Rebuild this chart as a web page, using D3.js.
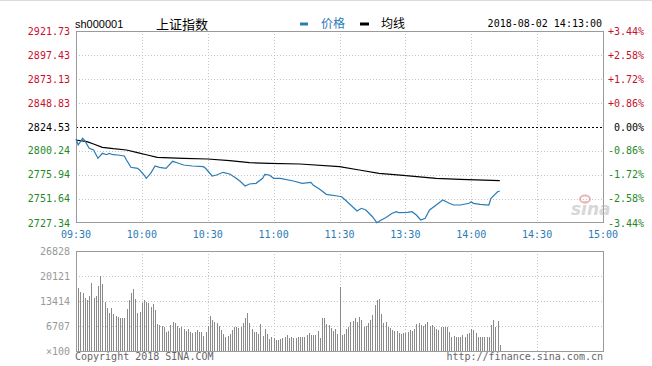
<!DOCTYPE html>
<html><head><meta charset="utf-8">
<script src="https://cdn.jsdelivr.net/npm/d3@7/dist/d3.min.js"></script>
<style>
html,body{margin:0;padding:0;background:#fff;}
svg{display:block;}
</style></head>
<body><svg id="c" width="652" height="366"></svg>
<script>
// ---------- data ----------
const symbol = "sh000001";
const title = "上证指数";
const stamp = "2018-08-02 14:13:00";
const legendNames = ["价格", "均线"];
const timeLabels = ["09:30","10:00","10:30","11:00","11:30","13:30","14:00","14:30","15:00"];
const priceTicks = [2921.73, 2897.43, 2873.13, 2848.83, 2824.53, 2800.24, 2775.94, 2751.64, 2727.34];
const pctTicks = ["+3.44%","+2.58%","+1.72%","+0.86%","0.00%","-0.86%","-1.72%","-2.58%","-3.44%"];
const prevClose = 2824.53;
const volTicks = [26828, 20121, 13414, 6707, 0];
const volTickLabels = ["26828","20121","13414","6707","×100"];

// minute index from 09:30 (lunch break removed)
const priceMinutes = [0,1,3,4,6,8,10,12,14,15,17,19,22,23,25,28,29,31,32,34,36,38,41,44,46,49,53,58,59,62,64,67,70,73,75,77,79,82,85,86,88,90,93,99,103,107,108,111,114,119,121,123,128,130,132,135,137,139,141,144,146,147,151,153,155,157,159,161,163,167,170,172,175,179,180,181,184,188,189,192,193];
const priceValues = [2812.38,2806.30,2813.09,2810.66,2802.96,2801.24,2792.84,2797.90,2796.48,2797.90,2796.48,2796.18,2795.17,2791.12,2783.73,2782.71,2780.99,2775.93,2772.59,2777.65,2785.04,2783.73,2782.71,2789.80,2788.38,2786.05,2785.04,2784.33,2782.71,2774.92,2775.93,2778.66,2776.94,2772.59,2769.15,2764.79,2766.82,2767.53,2772.59,2776.64,2775.93,2772.59,2772.59,2769.85,2767.53,2768.54,2765.80,2761.45,2756.39,2754.67,2753.96,2749.91,2739.48,2742.21,2740.49,2733.71,2727.63,2730.37,2732.70,2737.15,2738.77,2737.76,2738.16,2738.77,2735.43,2730.37,2732.09,2740.49,2743.83,2750.62,2747.28,2745.55,2745.55,2747.28,2748.90,2747.28,2746.26,2745.55,2752.34,2759.02,2759.73];

const avgMinutes = [0,5,8,12,17,23,28,32,37,49,60,70,79,88,102,120,129,138,149,164,175,193];
const avgValues = [2811.37,2809.65,2807.32,2803.98,2802.56,2801.24,2798.51,2796.48,2793.85,2792.84,2792.13,2790.41,2788.38,2787.78,2787.07,2784.33,2780.99,2777.65,2775.63,2772.59,2771.58,2770.16];

// volume per minute (x100 shares), minute 0..193
const volumes = [17500,
16810,15920,15470,14130,13680,14760,18150,14130,14760,17440,20120,17890,13240,11450,10280,11450,9930,9390,9210,8760,8760,8760,11180,13680,15650,16550,13860,10280,10550,12970,13680,13240,12790,11890,12610,11000,7240,6980,6710,6350,5190,5460,6980,7870,7600,6710,6080,6350,5810,5460,5810,5190,4920,5190,5630,5190,5190,4020,5190,6710,9390,8320,7870,7600,6710,
5630,4560,3850,4020,4560,5630,6530,6350,6080,6350,7600,8760,10110,7600,5810,5190,5190,4560,7240,4020,5810,4560,3130,3850,3400,2950,2950,3130,3400,3850,4290,3400,3670,3400,3400,3670,3670,3850,3850,4290,4920,4290,4290,4290,5460,3400,8760,8760,7240,6980,6080,5460,5810,4560,17260,4290,4560,5810,6350,7870,8140,8760,7870,9030,8320,6350,6710,7600,8320,9660,12340,13680,13860,9930,7420,7870,6530,6080,5630,5460,5460,4920,4560,4740,4740,5190,5630,5460,5810,7240,7600,6980,6710,7240,7870,6710,6980,6350,5810,5630,
6530,6350,6350,6530,5190,3670,4020,3850,3850,3850,4290,3850,4560,4740,5810,5630,4920,3850,3670,3850,3850,3850,3850,6980,8320,6530,8140,1610];

// ---------- drawing ----------
const svg = d3.select("#c");
const L = 76, R = 603;
const PT = 31, PB = 223, VT = 251, VB = 351;
const mono = "'DejaVu Sans Mono', 'Liberation Mono', monospace";
const RED = "#c8102e", GREEN = "#1f8a1f", BLUE = "#2b7bb5", GRID = "#c4c4c4", FRAME = "#9a9a9a";

const x = d3.scaleLinear().domain([0, 240]).range([L, R]);
const y = d3.scaleLinear().domain([priceTicks[priceTicks.length-1], priceTicks[0]]).range([PB, PT]);
const yv = d3.scaleLinear().domain([0, volTicks[0]]).range([VB, VT]);
const tickMinutes = timeLabels.map((d,i) => i*30);

// top light border
svg.append("line").attr("x1",0).attr("x2",652).attr("y1",0.5).attr("y2",0.5).attr("stroke","#dcdcdc");

// grids - price
const gP = svg.append("g");
gP.selectAll("line.h").data(priceTicks.slice(1, -1).filter(d => d !== prevClose)).join("line")
  .attr("x1", L).attr("x2", R).attr("y1", d => Math.round(y(d))+0.5).attr("y2", d => Math.round(y(d))+0.5)
  .attr("stroke", GRID).attr("stroke-dasharray", "1,2");
gP.selectAll("line.v").data(tickMinutes.slice(1,-1)).join("line")
  .attr("x1", d => Math.round(x(d))+0.5).attr("x2", d => Math.round(x(d))+0.5).attr("y1", PT).attr("y2", PB)
  .attr("stroke", GRID).attr("stroke-dasharray", "1,2");
// previous close dashed line
svg.append("line").attr("x1", L).attr("x2", R).attr("y1", Math.round(y(prevClose))+0.5).attr("y2", Math.round(y(prevClose))+0.5)
  .attr("stroke", "#000").attr("stroke-dasharray", "2,2");
// frame
svg.append("rect").attr("x", L+0.5).attr("y", PT+0.5).attr("width", R-L).attr("height", PB-PT-1)
  .attr("fill","none").attr("stroke", FRAME);

// grids - volume
const gV = svg.append("g");
gV.selectAll("line.h").data(volTicks.slice(1,-1)).join("line")
  .attr("x1", L).attr("x2", R).attr("y1", d => Math.round(yv(d))+0.5).attr("y2", d => Math.round(yv(d))+0.5)
  .attr("stroke", GRID).attr("stroke-dasharray", "1,2");
gV.selectAll("line.v").data(tickMinutes.slice(1,-1)).join("line")
  .attr("x1", d => Math.round(x(d))+0.5).attr("x2", d => Math.round(x(d))+0.5).attr("y1", VT).attr("y2", VB)
  .attr("stroke", GRID).attr("stroke-dasharray", "1,2");

// volume bars
svg.append("g").selectAll("line").data(volumes).join("line")
  .attr("x1", (d,i) => Math.round(x(i))+0.5).attr("x2", (d,i) => Math.round(x(i))+0.5)
  .attr("y1", d => Math.round(yv(d))).attr("y2", VB)
  .attr("stroke", "#8a8a8a").attr("stroke-width", 1);
svg.append("rect").attr("x", L+0.5).attr("y", VT+0.5).attr("width", R-L).attr("height", VB-VT)
  .attr("fill","none").attr("stroke", FRAME);

// sina watermark
const wm = svg.append("g").attr("opacity", 0.5);
wm.append("text").attr("x", 571).attr("y", 215).attr("font-family","'DejaVu Sans', sans-serif")
  .attr("font-size", 17).attr("font-style","italic").attr("font-weight","bold").attr("fill","#b0b0b0").text("sina");
wm.append("ellipse").attr("cx", 585).attr("cy", 199).attr("rx", 5).attr("ry", 3.5).attr("fill","none").attr("stroke","#e07070").attr("stroke-width",2);

// lines
const line = d3.line().x(d => x(d[0])).y(d => y(d[1]));
svg.append("path").datum(avgMinutes.map((m,i) => [m, avgValues[i]]))
  .attr("d", line).attr("fill","none").attr("stroke","#000").attr("stroke-width",1.2);
svg.append("path").datum(priceMinutes.map((m,i) => [m, priceValues[i]]))
  .attr("d", line).attr("fill","none").attr("stroke", BLUE).attr("stroke-width",1.2);

// left price labels
const col = v => v > prevClose ? RED : (v < prevClose ? GREEN : "#000");
svg.append("g").selectAll("text").data(priceTicks).join("text")
  .attr("x", 70).attr("y", d => y(d)).attr("dy","0.35em").attr("text-anchor","end")
  .attr("font-family", mono).attr("font-size", 10).attr("fill", d => col(d)).text(d => d.toFixed(2));
// right pct labels
svg.append("g").selectAll("text").data(pctTicks).join("text")
  .attr("x", 644).attr("y", (d,i) => y(priceTicks[i])).attr("dy","0.35em").attr("text-anchor","end")
  .attr("font-family", mono).attr("font-size", 10).attr("fill", (d,i) => col(priceTicks[i])).text(d => d);
// time labels
svg.append("g").selectAll("text").data(timeLabels).join("text")
  .attr("x", (d,i) => x(tickMinutes[i])).attr("y", 238).attr("text-anchor","middle")
  .attr("font-family", mono).attr("font-size", 10).attr("fill", BLUE).text(d => d);
// volume labels
svg.append("g").selectAll("text").data(volTicks).join("text")
  .attr("x", 70).attr("y", d => yv(d)).attr("dy","0.35em").attr("text-anchor","end")
  .attr("font-family", mono).attr("font-size", 10).attr("fill", "#999").text((d,i) => volTickLabels[i]);

// header
svg.append("text").attr("x", 75).attr("y", 28).attr("font-family","'Liberation Sans', Arial, sans-serif")
  .attr("font-size", 11).attr("fill","#000").text(symbol);
svg.append("text").attr("x", 156).attr("y", 29).attr("font-family","'Noto Sans CJK SC', sans-serif")
  .attr("font-size", 13).attr("fill","#000").text(title);
svg.append("line").attr("x1", 300).attr("x2", 308).attr("y1", 24).attr("y2", 24).attr("stroke", BLUE).attr("stroke-width", 3);
svg.append("text").attr("x", 321).attr("y", 28).attr("font-family","'Noto Sans CJK SC', sans-serif")
  .attr("font-size", 12).attr("fill", BLUE).text(legendNames[0]);
svg.append("line").attr("x1", 360).attr("x2", 369).attr("y1", 24).attr("y2", 24).attr("stroke", "#000").attr("stroke-width", 3);
svg.append("text").attr("x", 381).attr("y", 28).attr("font-family","'Noto Sans CJK SC', sans-serif")
  .attr("font-size", 12).attr("fill", "#000").text(legendNames[1]);
svg.append("text").attr("x", 602).attr("y", 27).attr("text-anchor","end").attr("font-family", mono)
  .attr("font-size", 10).attr("fill","#000").text(stamp);

// footer
svg.append("text").attr("x", 75).attr("y", 360).attr("font-family", mono).attr("font-size", 10)
  .attr("fill","#666").text("Copyright 2018 SINA.COM");
svg.append("text").attr("x", 603).attr("y", 360).attr("text-anchor","end").attr("font-family", mono).attr("font-size", 10)
  .attr("fill","#666").text("http://finance.sina.com.cn");
</script></body></html>
